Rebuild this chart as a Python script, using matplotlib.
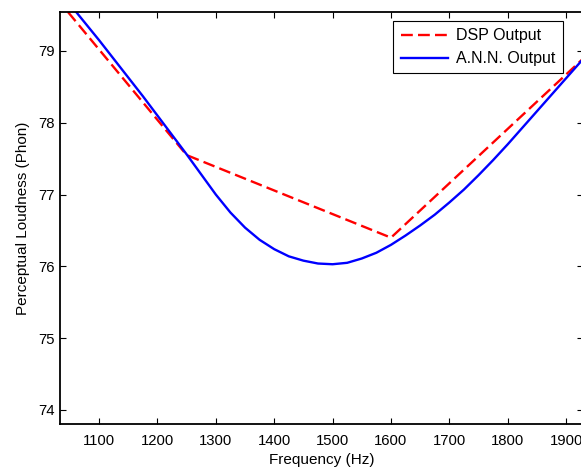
import matplotlib.pyplot as plt

plt.rcParams['font.family'] = ['Liberation Sans', 'DejaVu Sans']

# DSP output: 1/3-octave band values
dsp_freq = [1000, 1250, 1600, 2000]
dsp_loud = [80.0, 77.55, 76.4, 79.43]

# ANN output
ann_freq = [1050, 1075, 1100, 1125, 1150, 1175, 1200, 1225, 1250, 1275,
            1300, 1325, 1350, 1375, 1400, 1425, 1450, 1475, 1500, 1525,
            1550, 1575, 1600, 1625, 1650, 1675, 1700, 1725, 1750, 1775,
            1800, 1825, 1850, 1875, 1900, 1925, 1950]
ann_loud = [79.65, 79.40, 79.15, 78.89, 78.63, 78.37, 78.10, 77.83, 77.56, 77.28,
            77.00, 76.75, 76.54, 76.37, 76.24, 76.14, 76.08, 76.04, 76.03, 76.05,
            76.11, 76.19, 76.30, 76.43, 76.57, 76.72, 76.89, 77.07, 77.27, 77.48,
            77.70, 77.93, 78.16, 78.39, 78.62, 78.85, 79.08]

fig = plt.figure(figsize=(5.81, 4.68), dpi=100)
ax = fig.add_axes([60 / 581, 1 - 424 / 468, 523 / 581, 412 / 468])

ax.plot(dsp_freq, dsp_loud, color='#ff0000', lw=1.7, linestyle=(0, (5, 2.2)),
        label='DSP Output')
ax.plot(ann_freq, ann_loud, color='#0000ff', lw=1.7, label='A.N.N. Output')

ax.set_xlim(1033, 1929)
ax.set_ylim(73.805, 79.543)
ax.set_xticks(range(1100, 2000, 100))
ax.set_yticks(range(74, 80))

ax.tick_params(direction='in', top=True, right=True, length=4, width=0.8,
               labelsize=10.7)
ax.tick_params(axis='x', pad=7)
for s in ax.spines.values():
    s.set_linewidth(1.3)

ax.set_xlabel('Frequency (Hz)', fontsize=11, labelpad=4)
ax.set_ylabel('Perceptual Loudness (Phon)', fontsize=11, labelpad=6)

leg = ax.legend(loc='upper right', bbox_to_anchor=(0.9618, 0.978),
                borderaxespad=0, fontsize=11.5, handlelength=3,
                handletextpad=0.5, labelspacing=0.5, borderpad=0.45,
                fancybox=False, framealpha=1)
leg.get_frame().set_edgecolor('black')
leg.get_frame().set_linewidth(0.8)

fig.savefig('out.png', dpi=100)
